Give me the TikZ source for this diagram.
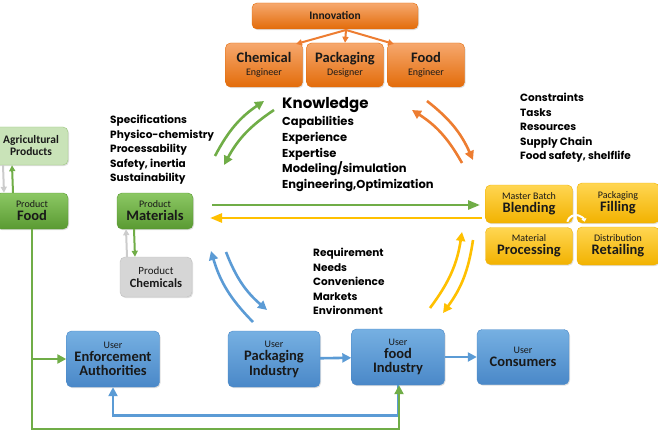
\documentclass[tikz,border=0pt]{standalone}
\usepackage{fontspec}
\setmainfont{Carlito}
\newfontfamily\listfont{Poppins}
\usetikzlibrary{arrows.meta,shadows}

\definecolor{orgtop}{HTML}{F6A86E}
\definecolor{orgbot}{HTML}{E36C0A}
\definecolor{orgline}{HTML}{ED7D31}
\definecolor{grntop}{HTML}{8CC864}
\definecolor{grnbot}{HTML}{5A9A32}
\definecolor{grnline}{HTML}{70AD47}
\definecolor{agrfill}{HTML}{C9E3B8}
\definecolor{chmfill}{HTML}{D6D6D6}
\definecolor{yeltop}{HTML}{FFD652}
\definecolor{yelbot}{HTML}{F2B200}
\definecolor{yelline}{HTML}{FFC000}
\definecolor{blutop}{HTML}{76B0E2}
\definecolor{blubot}{HTML}{4A88C8}
\definecolor{bluline}{HTML}{5B9BD5}

\newcommand{\sm}[1]{{\fontsize{10}{11}\selectfont #1}}
\newcommand{\bg}[1]{{\fontsize{14.5}{15}\selectfont\bfseries #1}}

\begin{document}
\begin{tikzpicture}[x=1pt, y=-1pt,
   box/.style={rounded corners=5pt, align=center, inner sep=1pt, text=black!90,
      drop shadow={opacity=0.25, shadow xshift=1pt, shadow yshift=-1.2pt}},
   orangebox/.style={box, top color=orgtop, bottom color=orgbot, draw=orgbot},
   greenbox/.style={box, top color=grntop, bottom color=grnbot, draw=grnbot},
   yellowbox/.style={box, top color=yeltop, bottom color=yelbot, draw=yelbot},
   bluebox/.style={box, top color=blutop, bottom color=blubot, draw=blubot},
   listtext/.style={align=left, anchor=north west, inner sep=0pt,
      font=\listfont\bfseries\fontsize{10.5}{14.5}\selectfont},
   flow/.style={line width=2.6pt, -{Triangle[length=9pt,width=9pt]}},
   thin/.style={line width=2pt, -{Triangle[length=6pt,width=6pt]}}]
\useasboundingbox (0,0) rectangle (658,433);

% innovation and designers
\node[orangebox, minimum width=166pt, minimum height=26pt] (inn) at (335,16)
   {\fontsize{11.5}{12}\selectfont\bfseries Innovation};
\node[orangebox, minimum width=77pt, minimum height=44pt] (che) at (264,65)
   {\bg{Chemical}\\[1pt]\sm{Engineer}};
\node[orangebox, minimum width=77pt, minimum height=44pt] (pde) at (345,65)
   {\bg{Packaging}\\[1pt]\sm{Designer}};
\node[orangebox, minimum width=77pt, minimum height=44pt] (foe) at (426,65)
   {\bg{Food}\\[1pt]\sm{Engineer}};
\coordinate (fan) at (346,30);
\draw[orgline, thin] (fan) -- (296,44);
\draw[orgline, thin] (fan) -- (pde.north);
\draw[orgline, thin] (fan) -- (394,44);

% products
\node[box, fill=agrfill, draw=grnline!70, minimum width=74pt, minimum height=38pt] (agr) at (31,146)
   {\fontsize{11.5}{13}\selectfont\bfseries Agricultural\\\fontsize{11.5}{13}\selectfont\bfseries Products};
\node[greenbox, minimum width=72pt, minimum height=36pt] (fod) at (32,211)
   {\sm{Product}\\[1pt]\bg{Food}};
\node[greenbox, minimum width=76pt, minimum height=36pt] (mat) at (155,211)
   {\sm{Product}\\[1pt]\bg{Materials}};
\node[box, fill=chmfill, draw=black!25, minimum width=72pt, minimum height=40pt] (chm) at (156,277)
   {\fontsize{11}{12}\selectfont Product\\[1pt]\fontsize{12.5}{14}\selectfont\bfseries Chemicals};
\draw[black!20, thin] ([xshift=-28pt]agr.south) -- ([xshift=-28pt]fod.north);
\draw[grnline, thin] ([xshift=-19pt]fod.north) -- ([xshift=-19pt]agr.south);
\draw[black!20, thin] ([xshift=-29pt]chm.north) -- ([xshift=-29pt]mat.south);
\draw[grnline, thin] ([xshift=-21pt]mat.south) -- ([xshift=-21pt]chm.north);

% process
\node[yellowbox, minimum width=87pt, minimum height=38pt] (bln) at (529,204)
   {\sm{Master Batch}\\[1pt]\bg{Blending}};
\node[yellowbox, minimum width=82pt, minimum height=40pt] (fil) at (618,203)
   {\sm{Packaging}\\[1pt]\bg{Filling}};
\node[yellowbox, minimum width=87pt, minimum height=37pt] (prc) at (529,246)
   {\sm{Material}\\[1pt]\bg{Processing}};
\node[yellowbox, minimum width=82pt, minimum height=38pt] (ret) at (618,246)
   {\sm{Distribution}\\[1pt]\bg{Retailing}};
\coordinate (cyc) at (576,224);
\draw[white, line width=2pt, -{Triangle[length=3pt,width=5pt]}]
   (cyc) ++(195:9) arc[start angle=195, end angle=345, radius=9];

% users
\node[bluebox, minimum width=93pt, minimum height=56pt] (enf) at (113,359)
   {\sm{User}\\[1pt]\bg{Enforcement}\\[1.5pt]\bg{Authorities}};
\node[bluebox, minimum width=92pt, minimum height=56pt] (pin) at (274,359)
   {\sm{User}\\[1pt]\bg{Packaging}\\[1.5pt]\bg{Industry}};
\node[bluebox, minimum width=93pt, minimum height=56pt] (fin) at (398,357)
   {\sm{User}\\[1pt]\bg{food}\\[1.5pt]\bg{Industry}};
\node[bluebox, minimum width=92pt, minimum height=55pt] (con) at (523,357)
   {\sm{User}\\[1pt]\bg{Consumers}};
\draw[bluline, flow] (pin) -- (fin);
\draw[bluline, flow] (fin) -- (con);
\draw[bluline, flow] (fin.south) -- ++(0,30) -| (enf.south);
\draw[grnline, flow] (fod.south) |- (enf.west);
\draw[grnline, flow] (fod.south) -- (32,429) -| ([xshift=1pt]fin.south);

% texts
\node[listtext] (spec) at (110,115)
   {Specifications\\Physico-chemistry\\Processability\\Safety, inertia\\Sustainability};
\node[listtext, font=\listfont\bfseries\fontsize{15}{16}\selectfont] (know) at (282,97) {Knowledge};
\node[listtext, font=\listfont\bfseries\fontsize{11.5}{15.8}\selectfont] (kwl) at (282,116)
   {Capabilities\\Experience\\Expertise\\Modeling/simulation\\Engineering,Optimization};
\node[listtext] (cons) at (520,93)
   {Constraints\\Tasks\\Resources\\Supply Chain\\Food safety, shelflife};
\node[listtext] (req) at (313,248)
   {Requirement\\Needs\\Convenience\\Markets\\Environment};

% material flow
\draw[grnline, flow, -{Triangle[length=12pt,width=9pt]}] (212,205) -- (480,205);
\draw[yelline, flow, -{Triangle[length=12pt,width=9pt]}] (482,218) -- (210,218);

% knowledge loop
\draw[grnline, flow] (215,156) to[bend left=14] (264,101);
\draw[grnline, flow] (274,110) to[bend right=14] (224,165);
\draw[orgline, flow] (462,163) to[bend right=14] (412,110);
\draw[orgline, flow] (427,101) to[bend left=14] (473,160);
\draw[yelline, flow] (430,308) to[bend right=14] (462,232);
\draw[yelline, flow] (473,240) to[bend left=14] (443,313);
\draw[bluline, flow] (253,322) to[bend left=14] (211,251);
\draw[bluline, flow] (226,252) to[bend right=14] (267,310);
\end{tikzpicture}
\end{document}
